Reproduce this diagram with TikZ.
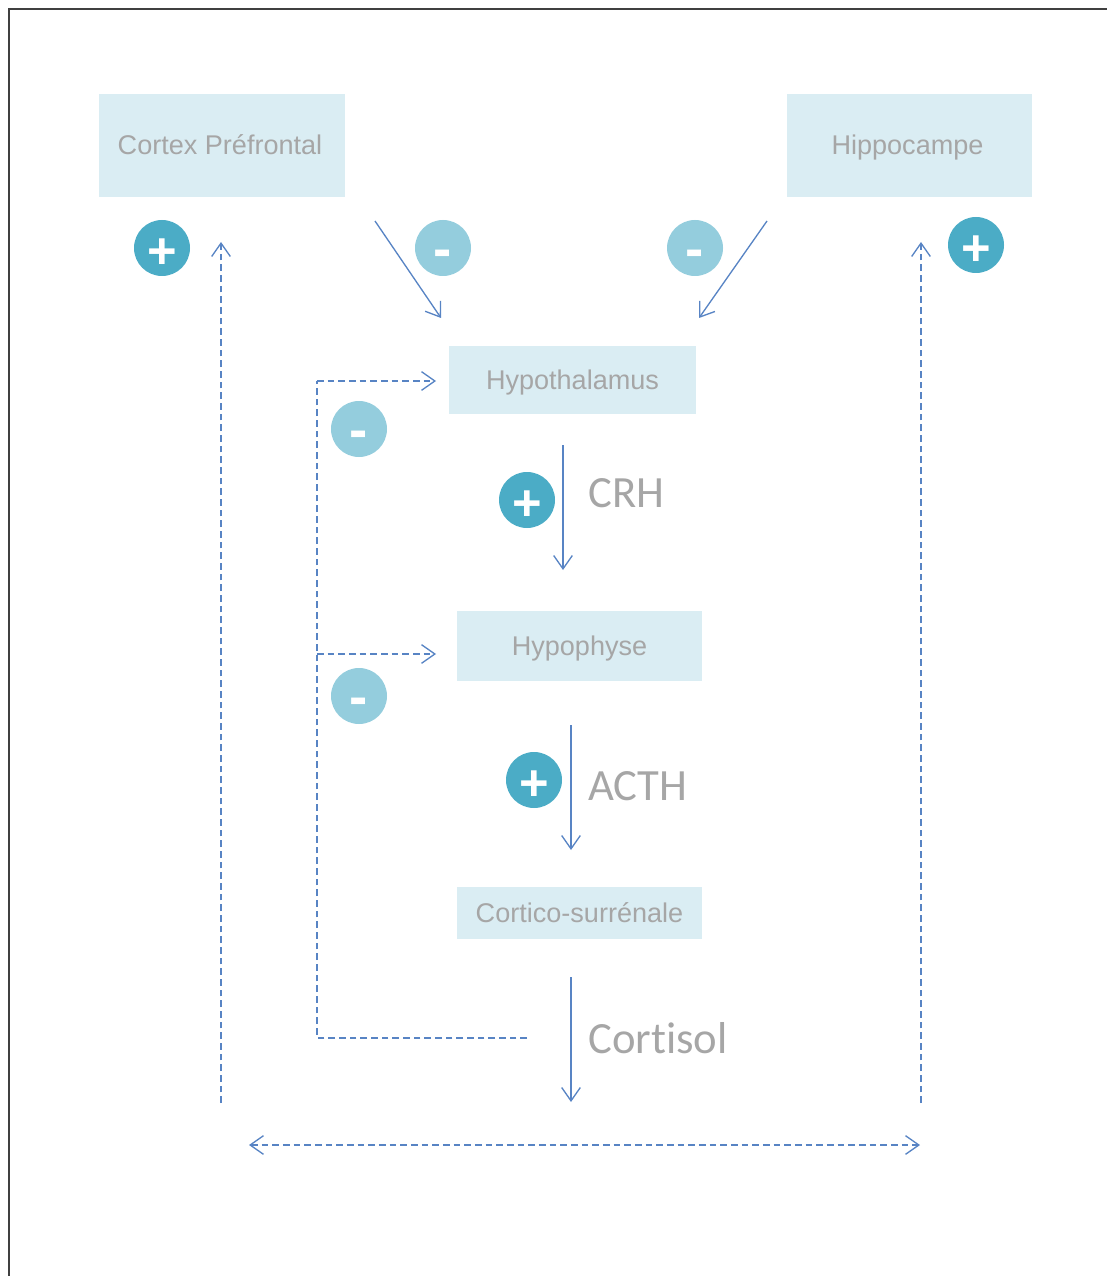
\documentclass[tikz,border=0pt]{standalone}
\usepackage{fontspec}
\setmainfont{Liberation Sans}
\newfontfamily\labelfont[Ligatures=NoCommon]{Carlito}
\usetikzlibrary{arrows.meta}
\definecolor{boxblue}{RGB}{218, 237, 243}
\definecolor{flowblue}{RGB}{88, 132, 196}
\definecolor{plusteal}{RGB}{75, 172, 198}
\definecolor{minusteal}{RGB}{148, 205, 221}
\definecolor{textgray}{RGB}{166, 166, 166}
\tikzset{
  organ/.style={rectangle, fill=boxblue, text=textgray, inner sep=0pt, text height=18pt, text depth=4.5pt, font=\fontsize{20.3}{24}\selectfont},
  hormone/.style={anchor=west, inner sep=0pt, text=textgray, font=\labelfont\fontsize{33.5}{38}\selectfont},
  plussign/.style={circle, fill=plusteal, text=white, minimum size=42pt, inner sep=0pt, text height=30.5pt, text depth=0pt, font=\bfseries\fontsize{38}{38}\selectfont},
  minussign/.style={circle, fill=minusteal, text=white, minimum size=42pt, inner sep=0pt, text height=29pt, text depth=0pt, font=\bfseries\fontsize{41}{41}\selectfont},
  barb/.style={-{Straight Barb[length=10pt,width=14pt]}},
  flow/.style={flowblue, line width=1pt, barb},
  feedback/.style={flowblue, line width=1pt, dash pattern=on 5pt off 3pt}
}
\begin{document}
\begin{tikzpicture}[x=0.75pt, y=-0.75pt]
\useasboundingbox (0,0) rectangle (1107,1276);

% Frame
\draw[black!75, line width=1.2pt] (9,1276) -- (9,9) -- (1107,9);

% Organs
\node[organ, minimum width=184.5pt, minimum height=77pt] (cortex) at (222,145.5) {Cortex Préfrontal\hspace*{3pt}};
\node[organ, minimum width=184pt, minimum height=77pt] (hippocampe) at (909.5,145.5) {Hippocampe\hspace*{3pt}};
\node[organ, minimum width=185pt, minimum height=51pt] (hypothalamus) at (572.5,380) {Hypothalamus};
\node[organ, minimum width=184pt, minimum height=52.5pt] (hypophyse) at (579.5,646) {Hypophyse};
\node[organ, minimum width=184pt, minimum height=39pt] (cortico) at (579.5,913) {Cortico-surrénale};

% Hormones
\node[hormone] (crh) at (588,493) {CRH};
\node[hormone] (acth) at (588,786) {ACTH};
\node[hormone] (cortisol) at (588,1038) {Cortisol};

% Signs
\node[plussign] (pluscortex) at (162,248) {+};
\node[minussign] (minuscortex) at (443,248) {-};
\node[minussign] (minushippo) at (695,248) {-};
\node[plussign] (plushippo) at (976,245) {+};
\node[minussign] (minushypo) at (359,429) {-};
\node[plussign] (pluscrh) at (527,500) {+};
\node[minussign] (minusphyse) at (359,696) {-};
\node[plussign] (plusacth) at (534,780) {+};

% Ends of the connectors
\coordinate (cortexout) at (375,221);
\coordinate (cortexin) at (441,318);
\coordinate (hippoout) at (767,221);
\coordinate (hippoin) at (699,318);
\coordinate (crhtop) at (563,445);
\coordinate (crhend) at (563,570);
\coordinate (acthtop) at (571,725);
\coordinate (acthend) at (571,850);
\coordinate (cortisoltop) at (571,977);
\coordinate (cortisolend) at (571,1102);
\coordinate (backstart) at (527,1038);
\coordinate (backcorner) at (317,1038);
\coordinate (backtop) at (317,381);
\coordinate (backhypo) at (436,381);
\coordinate (backjoint) at (317,654);
\coordinate (backphyse) at (436,654);
\coordinate (leftbottom) at (221,1103);
\coordinate (lefttop) at (221,242);
\coordinate (rightbottom) at (921,1103);
\coordinate (righttop) at (921,242);
\coordinate (spreadleft) at (249,1145);
\coordinate (spreadright) at (920,1145);

% Solid arrows
\draw[flow] (cortexout) -- (cortexin);
\draw[flow] (hippoout) -- (hippoin);
\draw[flow] (crhtop) -- (crhend);
\draw[flow] (acthtop) -- (acthend);
\draw[flow] (cortisoltop) -- (cortisolend);

% Dashed arrows
\draw[feedback] (backstart) -- (backcorner) -- (backtop);
\draw[feedback, barb] (backtop) -- (backhypo);
\draw[feedback, barb] (backjoint) -- (backphyse);
\draw[feedback, barb] (leftbottom) -- (lefttop);
\draw[feedback, barb] (rightbottom) -- (righttop);
\draw[feedback, {Straight Barb[length=10pt,width=14pt]}-{Straight Barb[length=10pt,width=14pt]}] (spreadleft) -- (spreadright);
\end{tikzpicture}
\end{document}
